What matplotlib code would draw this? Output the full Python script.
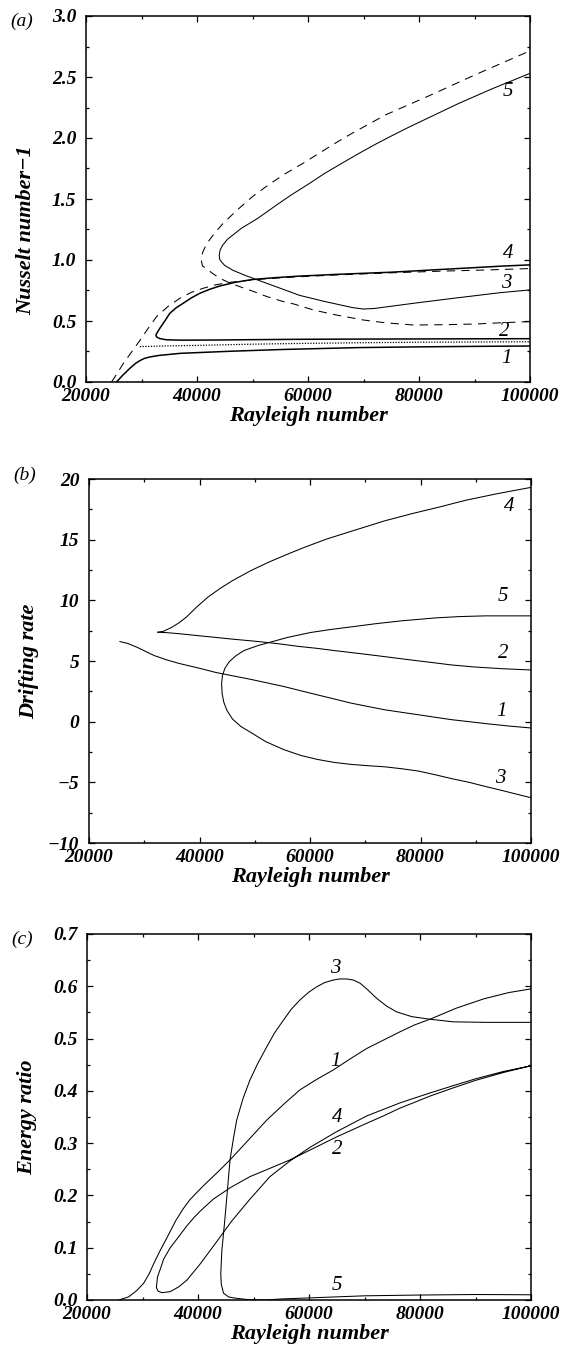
import matplotlib
matplotlib.use("Agg")
from matplotlib import pyplot as plt
from matplotlib.ticker import MultipleLocator, FuncFormatter

plt.rcParams['font.family'] = ['Liberation Serif', 'DejaVu Serif']
plt.rcParams['font.style'] = 'italic'
plt.rcParams['font.weight'] = 'bold'
plt.rcParams['axes.unicode_minus'] = True

# ---- panel (a): Nusselt number - 1 ----
a1_x = [25500, 26500, 27900, 29000, 29700, 30500, 31500, 33000, 37000, 46000, 55000, 69000, 80000, 90000, 100000]
a1_y = [0.0, 0.05, 0.112, 0.155, 0.175, 0.193, 0.205, 0.217, 0.235, 0.252, 0.266, 0.282, 0.288, 0.292, 0.295]

a_dot_x = [29700, 35000, 40000, 50000, 60000, 70000, 80000, 90000, 100000]
a_dot_y = [0.290, 0.296, 0.300, 0.310, 0.317, 0.322, 0.326, 0.328, 0.330]

# solid curve 2 (lower branch) folding into curve 4
a24_x = [100000, 90000, 80000, 70000, 58500, 50000, 43000, 37000, 34500, 33300, 32700, 32600, 32900, 33300,
         34200, 35100, 36300, 37500, 39000, 40500, 42300, 44100, 47000, 50000, 54000, 58500, 65000, 75000,
         85000, 95000, 100000]
a24_y = [0.355, 0.354, 0.353, 0.352, 0.350, 0.347, 0.344, 0.343, 0.346, 0.356, 0.370, 0.385, 0.410, 0.440,
         0.500, 0.563, 0.610, 0.645, 0.690, 0.727, 0.760, 0.787, 0.818, 0.840, 0.855, 0.868, 0.882, 0.900,
         0.925, 0.950, 0.960]

# dashed curve rising from zero and running under curve 4
a_dash1_x = [24600, 25600, 26700, 28200, 29700, 31200, 32700, 34800, 36900, 39000, 41100, 43200, 45400, 48000,
             52000, 58000, 65000, 75000, 85000, 92000, 100000]
a_dash1_y = [0.0, 0.07, 0.15, 0.245, 0.34, 0.44, 0.535, 0.62, 0.686, 0.735, 0.768, 0.795, 0.814, 0.828,
             0.845, 0.862, 0.877, 0.895, 0.910, 0.918, 0.930]

# dashed fold: lower branch (right to tip) then upper branch
a_dash2_x = [100000, 95000, 90000, 85000, 79000, 74000, 70000, 65000, 61000, 57400, 55500, 52600, 50000, 47800,
             46000, 44100, 42800, 41700, 41000, 40800, 41000, 41700, 43000, 44500, 47000, 50000, 53000, 56000,
             59000, 62000, 65000, 68000, 71000, 74000, 77000, 80000, 83000, 86000, 89000, 92000, 96000, 100000]
a_dash2_y = [0.495, 0.486, 0.475, 0.470, 0.467, 0.485, 0.508, 0.550, 0.590, 0.640, 0.660, 0.700, 0.745, 0.780,
             0.810, 0.850, 0.890, 0.930, 0.950, 0.990, 1.060, 1.130, 1.210, 1.290, 1.400, 1.520, 1.620, 1.710,
             1.790, 1.875, 1.960, 2.040, 2.115, 2.190, 2.250, 2.310, 2.370, 2.433, 2.495, 2.556, 2.635, 2.714]

# solid fold: curve 3 (lower branch) into curve 5 (upper branch)
a35_x = [100000, 94600, 86000, 79000, 72000, 70000, 68000, 63000, 58500, 53700, 48900, 46500, 45000, 44400,
         44100, 44000, 44150, 44600, 45500, 48000, 51000, 54000, 57000, 60000, 63000, 66000, 69000, 72000,
         75000, 78000, 81000, 84000, 87000, 90000, 93000, 96500, 100000]
a35_y = [0.755, 0.732, 0.685, 0.645, 0.603, 0.598, 0.610, 0.660, 0.710, 0.790, 0.870, 0.915, 0.955, 0.985,
         1.005, 1.035, 1.080, 1.120, 1.170, 1.260, 1.343, 1.440, 1.534, 1.620, 1.710, 1.790, 1.869, 1.945,
         2.016, 2.085, 2.150, 2.215, 2.280, 2.340, 2.400, 2.465, 2.530]

a_lab_txt = ['5', '4', '3', '2', '1']
a_lab_x = [96000, 96000, 95700, 95400, 95700]
a_lab_y = [2.38, 1.05, 0.81, 0.41, 0.19]

# ---- panel (b): drifting rate ----
b1_x = [25600, 27000, 28600, 30200, 31800, 34000, 36300, 40000, 43000, 46000, 49140, 52000, 55240, 58300,
        61320, 64400, 67420, 70500, 73520, 76600, 79620, 82700, 85700, 88800, 91800, 96000, 100000]
b1_y = [6.60, 6.45, 6.15, 5.80, 5.45, 5.10, 4.80, 4.40, 4.05, 3.78, 3.50, 3.22, 2.90, 2.55,
        2.21, 1.87, 1.53, 1.25, 0.98, 0.77, 0.57, 0.36, 0.16, 0.0, -0.16, -0.36, -0.52]

b2_x = [32450, 34000, 36300, 39500, 42800, 46000, 49140, 52200, 55000, 58000, 61320, 64400, 67400, 70500,
        73520, 76600, 79620, 82700, 85700, 90000, 95000, 100000]
b2_y = [7.37, 7.34, 7.25, 7.10, 6.95, 6.80, 6.67, 6.53, 6.38, 6.20, 6.04, 5.86, 5.70, 5.53,
        5.36, 5.18, 5.01, 4.84, 4.67, 4.50, 4.36, 4.26]

b4_x = [32450, 33500, 35000, 36300, 37600, 39500, 41500, 43800, 46000, 49300, 52500, 55800, 59000, 63000,
        68800, 73500, 78500, 83500, 88200, 94000, 100000]
b4_y = [7.37, 7.45, 7.78, 8.15, 8.61, 9.45, 10.26, 11.00, 11.63, 12.45, 13.14, 13.78, 14.37, 15.05,
        15.88, 16.55, 17.15, 17.70, 18.25, 18.80, 19.31]

# fold: curve 3 (lower) into curve 5 (upper)
b35_x = [100000, 95000, 91400, 88800, 85700, 82700, 79620, 76600, 73520, 70500, 67420, 64400, 61320, 58300,
         55240, 52000, 49140, 47500, 46000, 45000, 44400, 44100, 44000, 44150, 44600, 45400, 46500, 48000,
         49140, 50800, 52800, 56000, 60110, 63800, 67420, 72000, 76560, 82660, 87000, 91800, 100000]
b35_y = [-6.27, -5.70, -5.30, -5.00, -4.70, -4.38, -4.07, -3.88, -3.72, -3.63, -3.52, -3.36, -3.11, -2.78,
         -2.30, -1.65, -0.85, -0.40, 0.20, 0.90, 1.60, 2.30, 3.12, 3.80, 4.40, 4.95, 5.40, 5.85,
         6.04, 6.30, 6.55, 6.95, 7.35, 7.60, 7.81, 8.08, 8.31, 8.55, 8.66, 8.72, 8.72]

b_lab_txt = ['4', '5', '2', '1', '3']
b_lab_x = [96000, 95000, 95000, 94700, 94400]
b_lab_y = [17.7, 10.3, 5.6, 0.8, -4.7]

# ---- panel (c): energy ratio ----
c1_x = [25740, 27500, 28960, 30200, 31200, 32000, 33200, 34400, 36000, 37300, 38560, 40000, 41500, 43500,
        45770, 49000, 52380, 55400, 58380, 61400, 64380, 67400, 70390, 73400, 76400, 79000, 81800, 86500,
        91500, 96000, 100000]
c1_y = [0.0, 0.006, 0.018, 0.032, 0.050, 0.069, 0.095, 0.119, 0.152, 0.174, 0.192, 0.208, 0.224, 0.244,
        0.268, 0.305, 0.344, 0.374, 0.402, 0.422, 0.440, 0.461, 0.481, 0.497, 0.513, 0.526, 0.537, 0.558,
        0.576, 0.588, 0.595]

# loop: curve 2 (from right end to the tip) then curve 4 (tip to right end)
c24_x = [100000, 95000, 90000, 85800, 81800, 79000, 76400, 73400, 70390, 67700, 64990, 60800, 56580, 53000,
         49370, 46000, 42760, 40500, 39300, 38000, 36300, 35000, 33800, 33300, 32700, 32500, 32800, 33500,
         35000, 36500, 38000, 40400, 43400, 46000, 49370, 52970, 56580, 60180, 64990, 70390, 76400, 81800,
         86000, 90000, 95000, 100000]
c24_y = [0.448, 0.435, 0.420, 0.405, 0.390, 0.378, 0.367, 0.352, 0.338, 0.325, 0.312, 0.290, 0.268, 0.252,
         0.236, 0.216, 0.193, 0.171, 0.158, 0.142, 0.118, 0.100, 0.078, 0.062, 0.044, 0.024, 0.017, 0.014,
         0.016, 0.025, 0.038, 0.069, 0.112, 0.150, 0.193, 0.236, 0.266, 0.292, 0.322, 0.352, 0.377, 0.396,
         0.410, 0.423, 0.437, 0.448]

# curve 3 folding down to zero, then running on as curve 5
c35_x = [100000, 92000, 86000, 81800, 78500, 75800, 74000, 72190, 70500, 69190, 68000, 66790, 65500, 64380,
         62800, 61380, 60000, 58380, 56800, 55380, 53800, 52380, 50800, 49370, 48100, 46970, 46400, 45770,
         45170, 44760, 44300, 44100, 44200, 44600, 45500, 46400, 48800, 52000, 55000, 60000, 65000, 70000,
         80000, 90000, 100000]
c35_y = [0.531, 0.531, 0.532, 0.537, 0.542, 0.551, 0.562, 0.577, 0.594, 0.606, 0.612, 0.614, 0.614, 0.612,
         0.607, 0.599, 0.589, 0.574, 0.556, 0.535, 0.511, 0.484, 0.453, 0.421, 0.385, 0.344, 0.310, 0.268,
         0.194, 0.145, 0.095, 0.050, 0.030, 0.013, 0.006, 0.004, 0.001, 0.0, 0.002, 0.004, 0.006, 0.008,
         0.0095, 0.0105, 0.010]

c_lab_txt = ['3', '1', '4', '2', '5']
c_lab_x = [64690, 64690, 65070, 65070, 65070]
c_lab_y = [0.634, 0.456, 0.350, 0.287, 0.027]

W, H = 561, 1355
fig = plt.figure(figsize=(W / 100, H / 100), dpi=100)


def make_axes(left, top, right, bottom):
    return fig.add_axes([left / W, 1 - bottom / H, (right - left) / W, (bottom - top) / H])


def style_axes(ax, ylim, ymajor, yminor, yfmt, ylabel, ylabel_y, panel, panel_y):
    ax.set_xlim(20000, 100000)
    ax.set_ylim(*ylim)
    ax.xaxis.set_major_locator(MultipleLocator(20000))
    ax.xaxis.set_minor_locator(MultipleLocator(10000))
    ax.yaxis.set_major_locator(MultipleLocator(ymajor))
    ax.yaxis.set_minor_locator(MultipleLocator(yminor))
    ax.xaxis.set_major_formatter(FuncFormatter(lambda v, p: '%d' % v))
    ax.yaxis.set_major_formatter(FuncFormatter(lambda v, p: (yfmt % v).replace('-', '\u2212')))
    ax.tick_params(which='both', direction='in', top=True, right=True, width=0.9, labelsize=14)
    ax.tick_params(which='major', length=4)
    ax.tick_params(which='minor', length=2.5)
    ax.tick_params(axis='y', pad=7)
    ax.tick_params(axis='x', pad=4)
    for sp in ax.spines.values():
        sp.set_linewidth(1.1)
    ax.set_xlabel('Rayleigh number', labelpad=1, fontsize=16, weight='bold', style='italic')
    ax.set_ylabel(ylabel, fontsize=16, weight='bold', style='italic')
    ax.yaxis.set_label_coords(-0.112, ylabel_y)
    ax.text(-0.145, panel_y, panel, transform=ax.transAxes, ha='center', va='center',
            weight='normal', size=14)


def put_labels(ax, txt, xs, ys):
    for t, x, y in zip(txt, xs, ys):
        ax.text(x, y, t, ha='center', va='center', weight='normal', size=15)


thin = 0.75
thick = 1.1

# (a)
ax = make_axes(86, 16, 530, 382)
ax.plot(a1_x, a1_y, color='black', lw=thick)
ax.plot(a_dot_x, a_dot_y, color='black', lw=0.9, dashes=(1, 1.2))
ax.plot(a24_x, a24_y, color='black', lw=thick)
ax.plot(a_dash1_x, a_dash1_y, color='black', lw=thin, dashes=(8, 6))
ax.plot(a_dash2_x, a_dash2_y, color='black', lw=thin, dashes=(8, 6))
ax.plot(a35_x, a35_y, color='black', lw=thin)
put_labels(ax, a_lab_txt, a_lab_x, a_lab_y)
style_axes(ax, (0, 3.0), 0.5, 0.25, '%.1f', 'Nusselt number\u22121', 0.415, '(a)', 0.986)

# (b)
ax = make_axes(89, 479, 531, 843)
ax.plot(b1_x, b1_y, color='black', lw=thin)
ax.plot(b2_x, b2_y, color='black', lw=thin)
ax.plot(b4_x, b4_y, color='black', lw=thin)
ax.plot(b35_x, b35_y, color='black', lw=thin)
put_labels(ax, b_lab_txt, b_lab_x, b_lab_y)
style_axes(ax, (-10, 20), 5, 2.5, '%.0f', 'Drifting rate', 0.5, '(b)', 1.011)

# (c)
ax = make_axes(87, 934, 531, 1300)
ax.plot(c1_x, c1_y, color='black', lw=thin)
ax.plot(c24_x, c24_y, color='black', lw=thin)
ax.plot(c35_x, c35_y, color='black', lw=thin)
put_labels(ax, c_lab_txt, c_lab_x, c_lab_y)
style_axes(ax, (0, 0.7), 0.1, 0.05, '%.1f', 'Energy ratio', 0.5, '(c)', 0.986)

fig.savefig('out.png', dpi=100)
